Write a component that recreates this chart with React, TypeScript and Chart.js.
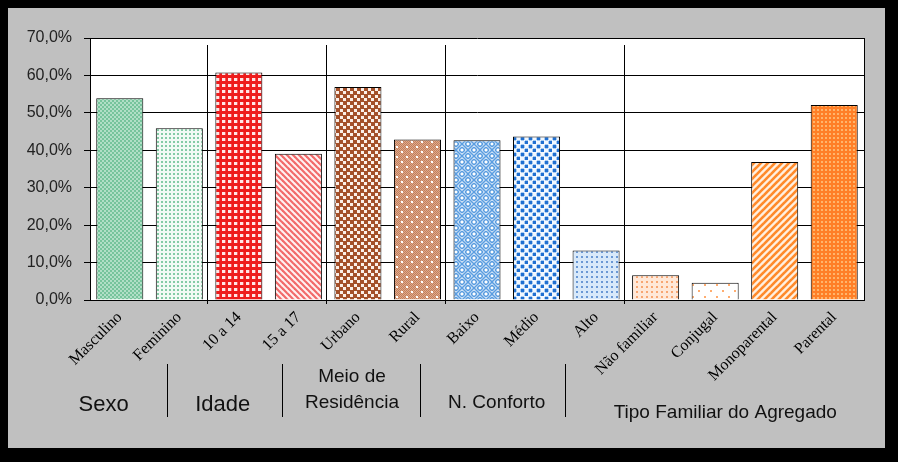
import React, { useEffect, useRef } from 'react';
import { Chart, registerables } from 'chart.js';

Chart.register(...registerables);

// ---------- data ----------
const categories = [
  'Masculino', 'Feminino', '10 a 14', '15 a 17', 'Urbano', 'Rural',
  'Baixo', 'Médio', 'Alto', 'Não familiar', 'Conjugal', 'Monoparental', 'Parental',
];
const values = [53.9, 45.9, 60.8, 39.1, 56.9, 42.9, 42.7, 43.7, 13.2, 6.6, 4.6, 36.9, 52.1];
const yMin = 0;
const yMax = 70;
const yStep = 10;
const groupNames = ['Sexo', 'Idade', 'Meio de\nResidência', 'N. Conforto', 'Tipo Familiar do Agregado'];
const groupStarts = [0, 2, 4, 6, 9];

// ---------- layout of the decorations (fractional category index / offsets below axis) ----------
const groupLabelPos = [
  { f: -0.27, dy: 105, size: 22 },
  { f: 1.73, dy: 105, size: 22 },
  { f: 3.9, dy: 77, dy2: 103, size: 19 },
  { f: 6.33, dy: 103, size: 19 },
  { f: 10.17, dy: 113, size: 19 },
];
const lowerSeparators = [0.8, 2.72, 5.05, 7.47];

function tile(w: number, h: number, bg: string, draw: (g: CanvasRenderingContext2D) => void) {
  const c = document.createElement('canvas');
  c.width = w;
  c.height = h;
  const g = c.getContext('2d') as CanvasRenderingContext2D;
  g.fillStyle = bg;
  g.fillRect(0, 0, w, h);
  draw(g);
  return g.createPattern(c, 'repeat') as CanvasPattern;
}

function stripes(size: number, bg: string, color: string, width: number, down: boolean) {
  return tile(size, size, bg, (g) => {
    g.strokeStyle = color;
    g.lineWidth = width;
    for (let k = -size; k <= size; k += size) {
      g.beginPath();
      if (down) {
        g.moveTo(k - 1, -1);
        g.lineTo(k + size + 1, size + 1);
      } else {
        g.moveTo(k - 1, size + 1);
        g.lineTo(k + size + 1, -1);
      }
      g.stroke();
    }
  });
}

function makePatterns() {
  const p: (CanvasPattern | string)[] = [];
  // Masculino
  p.push(tile(4, 4, '#b0dfc6', (g) => {
    g.fillStyle = '#76c49c';
    g.fillRect(0, 0, 2, 2);
    g.fillRect(2, 2, 2, 2);
  }));
  // Feminino
  p.push(tile(4, 4, '#f2faf5', (g) => {
    g.fillStyle = '#84cba6';
    g.fillRect(1, 1, 2, 2);
  }));
  // 10 a 14
  p.push(tile(6, 6, '#ee1c1c', (g) => {
    g.fillStyle = '#ffe6e6';
    g.fillRect(0, 0, 3, 3);
    g.fillStyle = '#f45a5a';
    g.fillRect(3, 0, 1, 3);
  }));
  // 15 a 17
  p.push(stripes(6, '#fff2f2', '#f26a6a', 2.2, true));
  // Urbano
  p.push(tile(7, 7, '#a4502a', (g) => {
    g.fillStyle = '#fbefe8';
    g.fillRect(0, 0, 3, 3);
    g.fillRect(4, 4, 3, 3);
  }));
  // Rural
  p.push(tile(10, 10, '#dcaa8e', (g) => {
    g.fillStyle = '#c47e5a';
    for (let y = 0; y < 10; y += 2) for (let x = 0; x < 10; x += 2) g.fillRect(x, y, 1, 1);
    for (let y = 1; y < 10; y += 2) for (let x = 1; x < 10; x += 2) g.fillRect(x, y, 1, 1);
    g.fillStyle = '#ffffff';
    g.fillRect(1, 1, 2, 2);
    g.fillRect(6, 6, 2, 2);
  }));
  // Baixo (weave)
  p.push(tile(12, 12, '#ffffff', (g) => {
    g.strokeStyle = '#5a9de0';
    g.lineWidth = 1.6;
    const seg = (x1: number, y1: number, x2: number, y2: number) => {
      g.beginPath();
      g.moveTo(x1, y1);
      g.lineTo(x2, y2);
      g.stroke();
    };
    seg(0, 6, 6, 0); seg(0, 3, 3, 0); seg(3, 6, 6, 3);
    seg(6, 12, 12, 6); seg(6, 9, 9, 6); seg(9, 12, 12, 9);
    seg(6, 0, 12, 6); seg(9, 0, 12, 3); seg(6, 3, 9, 6);
    seg(0, 6, 6, 12); seg(3, 6, 6, 9); seg(0, 9, 3, 12);
  }));
  // Médio
  p.push(tile(8, 8, '#f2f8ff', (g) => {
    g.fillStyle = '#a8cbf1';
    g.fillRect(0, 1, 5, 3);
    g.fillRect(1, 0, 3, 5);
    g.fillRect(4, 5, 5, 3);
    g.fillRect(5, 4, 3, 5);
    g.fillStyle = '#1f6fd1';
    g.fillRect(1, 1, 3, 3);
    g.fillRect(5, 5, 3, 3);
  }));
  // Alto
  p.push(tile(5, 5, '#d8e9fa', (g) => {
    g.fillStyle = '#6a98d4';
    g.fillRect(1, 1, 2, 2);
  }));
  // Não familiar
  p.push(tile(5, 5, '#ffe8d8', (g) => {
    g.fillStyle = '#f7a672';
    g.fillRect(1, 1, 2, 2);
  }));
  // Conjugal
  p.push(tile(12, 12, '#ffffff', (g) => {
    g.fillStyle = '#ffad70';
    g.fillRect(2, 2, 2, 2);
    g.fillRect(8, 8, 2, 2);
  }));
  // Monoparental
  p.push(stripes(7, '#fff0e0', '#ff8a2a', 2.6, false));
  // Parental
  p.push(tile(4, 4, '#ff7f27', (g) => {
    g.fillStyle = '#ffb56c';
    g.fillRect(1, 1, 2, 2);
  }));
  return p;
}

const decor = {
  id: 'decor',
  beforeDraw(chart: any) {
    const { ctx, chartArea: a, width, height } = chart;
    ctx.save();
    ctx.fillStyle = '#000';
    ctx.fillRect(0, 0, width, height);
    ctx.fillStyle = '#c0c0c0';
    ctx.fillRect(8, 8, 877, 440);
    ctx.fillStyle = '#fff';
    ctx.fillRect(a.left, a.top, a.right - a.left, a.bottom - a.top);
    ctx.restore();
  },
  afterDraw(chart: any) {
    const { ctx, chartArea: a } = chart;
    const xs = chart.scales.x;
    const x0 = xs.getPixelForValue(0);
    const step = xs.getPixelForValue(1) - x0;
    const at = (f: number) => x0 + f * step;
    ctx.save();
    ctx.strokeStyle = '#000';
    ctx.lineWidth = 1;
    ctx.beginPath();
    ctx.moveTo(Math.round(a.right) + 0.5, a.top);
    ctx.lineTo(Math.round(a.right) + 0.5, a.bottom);
    ctx.stroke();
    groupStarts.slice(1).forEach((s) => {
      const x = Math.round(at(s - 0.5)) - 1.5;
      ctx.beginPath();
      ctx.moveTo(x, a.top + 7);
      ctx.lineTo(x, a.bottom + 4);
      ctx.stroke();
    });
    lowerSeparators.forEach((f) => {
      const x = Math.round(at(f)) + 0.5;
      ctx.beginPath();
      ctx.moveTo(x, a.bottom + 64);
      ctx.lineTo(x, a.bottom + 117);
      ctx.stroke();
    });
    ctx.fillStyle = '#111';
    ctx.textAlign = 'center';
    ctx.textBaseline = 'middle';
    groupNames.forEach((name, i) => {
      const pos = groupLabelPos[i];
      ctx.font = `${pos.size}px "Liberation Sans", Arial, sans-serif`;
      const lines = name.split('\n');
      const x = at(pos.f);
      if (lines.length > 1) {
        ctx.fillText(lines[0], x, a.bottom + pos.dy);
        ctx.fillText(lines[1], x, a.bottom + (pos.dy2 as number));
      } else {
        ctx.fillText(lines[0], x, a.bottom + pos.dy);
      }
    });
    ctx.restore();
  },
};

export default function App() {
  const ref = useRef<HTMLCanvasElement | null>(null);
  useEffect(() => {
    document.body.style.margin = '0';
    const canvas = ref.current;
    if (!canvas) return;
    const patterns = makePatterns();
    const chart = new Chart(canvas, {
      type: 'bar',
      data: {
        labels: categories,
        datasets: [
          {
            data: values,
            backgroundColor: patterns as any,
            borderColor: '#000',
            borderWidth: 1,
            barPercentage: 0.79,
            categoryPercentage: 1,
          },
        ],
      },
      options: {
        animation: false,
        responsive: false,
        devicePixelRatio: 1,
        layout: { padding: { left: 0, top: 38, right: 34, bottom: 0 } },
        plugins: { legend: { display: false }, tooltip: { enabled: false } },
        scales: {
          x: {
            grid: { display: false, drawTicks: false },
            border: { display: true, color: '#000', width: 1 },
            ticks: {
              autoSkip: false,
              maxRotation: 45,
              minRotation: 45,
              padding: 8,
              color: '#000',
              font: { family: '"Liberation Serif", "Times New Roman", serif', size: 16 },
            },
            afterFit: (s: any) => {
              s.height = 162;
            },
          },
          y: {
            min: yMin,
            max: yMax,
            grid: { color: '#000', lineWidth: 1, tickLength: 6, drawTicks: true },
            border: { display: true, color: '#000', width: 1 },
            ticks: {
              stepSize: yStep,
              padding: 12,
              color: '#222',
              font: { family: '"Liberation Sans", Arial, sans-serif', size: 16 },
              callback: (v: any) => Number(v).toFixed(1).replace('.', ',') + '%',
            },
            afterFit: (s: any) => {
              s.width = 90;
            },
          },
        },
      },
      plugins: [decor],
    });
    return () => chart.destroy();
  }, []);
  return (
    <div style={{ width: 898, height: 462 }}>
      <canvas ref={ref} width={898} height={462} style={{ display: 'block' }} />
    </div>
  );
}
